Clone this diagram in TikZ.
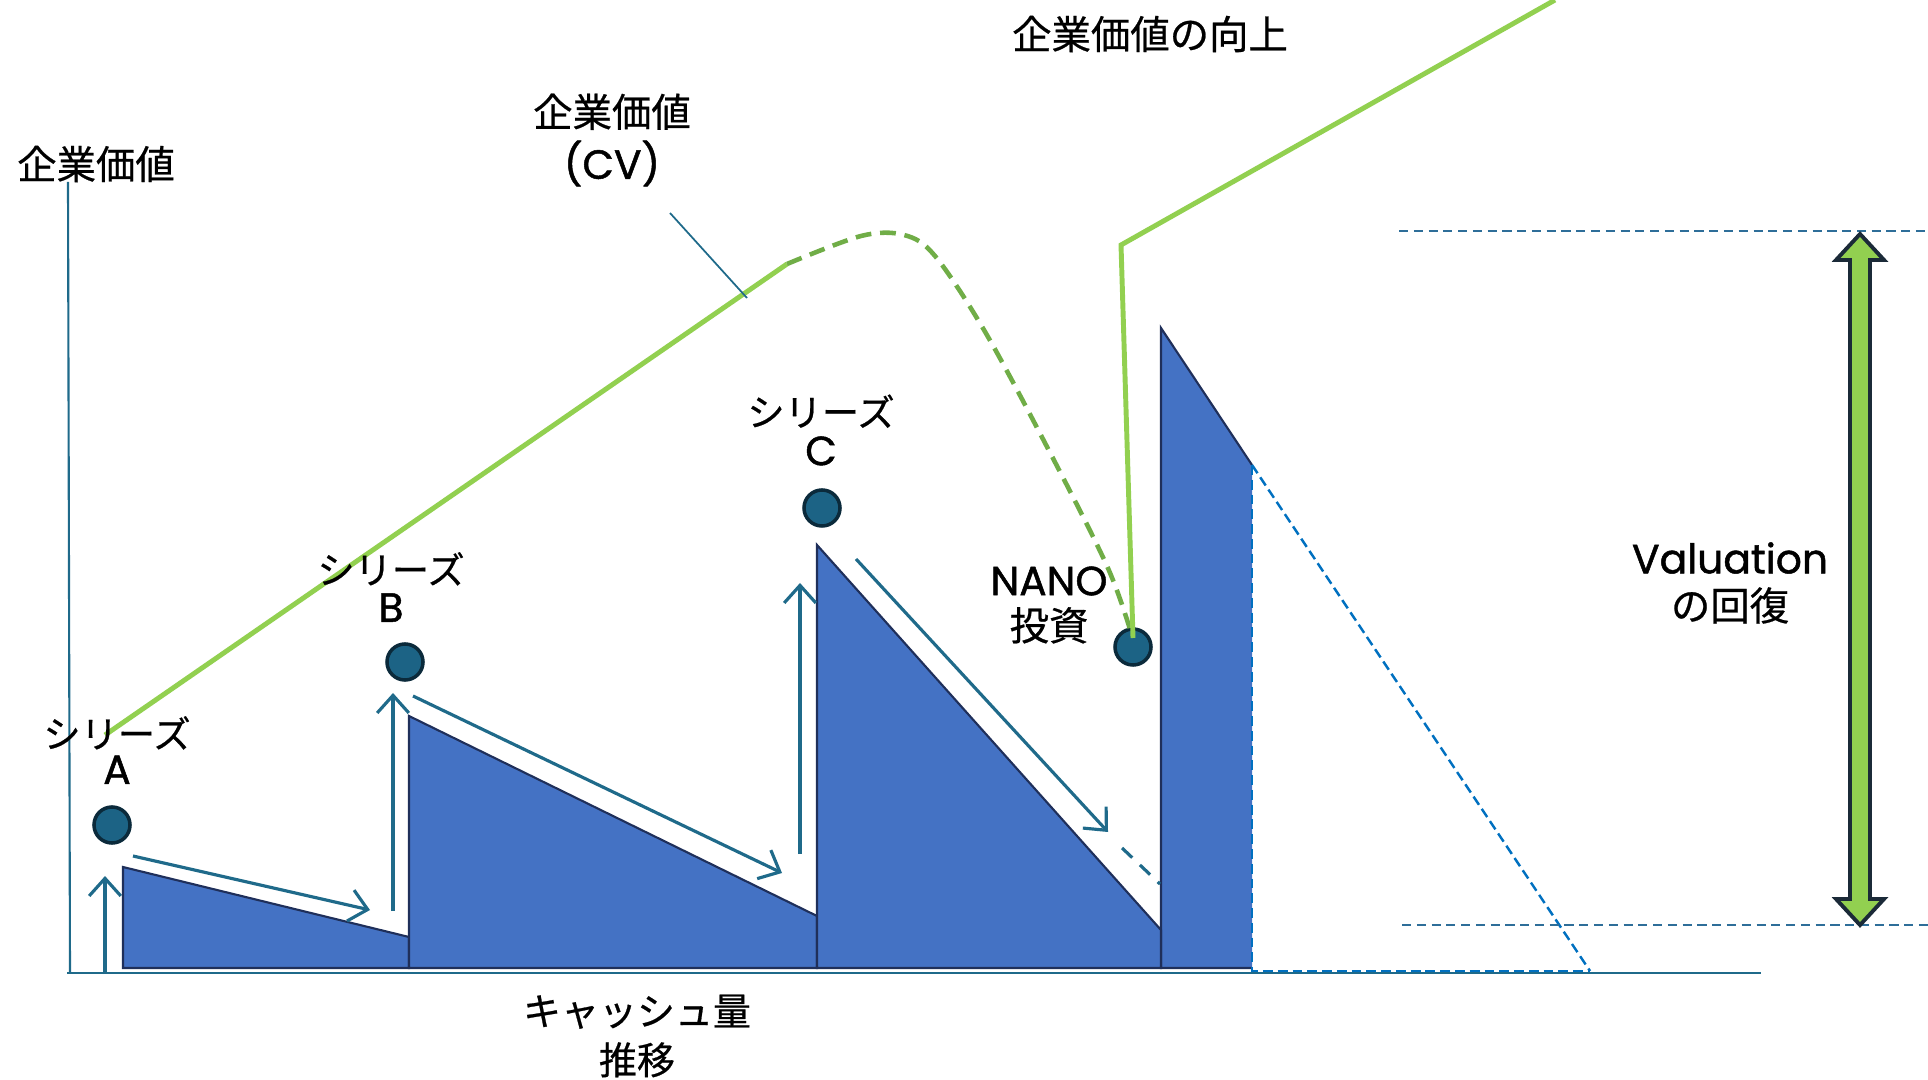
\documentclass[tikz,border=0pt]{standalone}
\usepackage{fontspec}
\setmainfont{Noto Sans CJK JP}[FakeBold=0.6]
\newfontfamily\latinfont{Poppins}[FakeBold=1.2]
\usetikzlibrary{arrows.meta}
\definecolor{polyfill}{HTML}{4472C4}
\definecolor{polyedge}{HTML}{1F2F5A}
\definecolor{flowteal}{HTML}{1F6A8A}
\definecolor{dotfill}{HTML}{1C6385}
\definecolor{dotedge}{HTML}{0B2A3B}
\definecolor{lgreen}{HTML}{92D050}
\definecolor{dgreen}{HTML}{70AD47}
\definecolor{dashblue}{HTML}{0070C0}
\definecolor{dashteal}{HTML}{2E6E99}
\definecolor{arrowedge}{HTML}{1B2A38}
\newcommand{\lt}[1]{{\latinfont\fontsize{11.6}{12}\selectfont #1}}
\begin{document}
\begin{tikzpicture}[x=0.01cm,y=-0.01cm,
 lbl/.style={font=\fontsize{11.2}{13}\selectfont, align=center, inner sep=0pt},
 dot/.style={circle, fill=dotfill, draw=dotedge, line width=1pt, minimum size=0.36cm, inner sep=0pt},
 cash/.style={fill=polyfill, draw=polyedge, line width=0.6pt, line join=miter},
 flow/.style={draw=flowteal, line width=0.9pt, -{Straight Barb[length=5pt,width=9pt]}},
 cv/.style={draw=lgreen, line width=1.4pt},
 axisline/.style={draw=flowteal, line width=0.6pt},
 refdash/.style={draw=dashteal, line width=0.4pt, dash pattern=on 2.6pt off 1.6pt},
 projdash/.style={draw=dashblue, line width=0.7pt, dash pattern=on 2.8pt off 1.4pt},
]
\useasboundingbox (0,0) rectangle (1928,1080);

% axes
\coordinate (yt) at (68,182);
\coordinate (yb) at (70,973);
\coordinate (xl) at (67,973);
\coordinate (xr) at (1761,973);
\draw[axisline] (yt) -- (yb);
\draw[axisline] (xl) -- (xr);

% cash polygons
\fill[polyfill] (1161,328) -- (1252,465) -- (1252,968) -- (1161,968) -- cycle;
\draw[polyedge, line width=0.6pt] (1252,465) -- (1161,328) -- (1161,968) -- (1252,968);
\draw[cash] (123,867) -- (409,937) -- (409,968) -- (123,968) -- cycle;
\draw[cash] (409,716) -- (817,916) -- (817,968) -- (409,968) -- cycle;
\draw[cash] (817,545) -- (1161,930) -- (1161,968) -- (817,968) -- cycle;

% projection dashed lines
\coordinate (pTop) at (1252,465);
\coordinate (pBot) at (1252,971);
\coordinate (pEnd) at (1590,971);
\draw[projdash] (pTop) -- (pBot) -- (pEnd);
\draw[projdash] (pTop) -- (pEnd);

% reference dashed lines
\coordinate (rt1) at (1399,231);
\coordinate (rt2) at (1928,231);
\coordinate (rb1) at (1402,925);
\coordinate (rb2) at (1928,925);
\draw[refdash] (rt1) -- (rt2);
\draw[refdash] (rb1) -- (rb2);

% dots
\node[dot] (dA) at (112,825) {};
\node[dot] (dB) at (405,662) {};
\node[dot] (dC) at (822,508) {};
\node[dot] (dN) at (1133,647) {};

% flow arrows
\coordinate (uA1) at (105,974); \coordinate (uA2) at (105,876);
\coordinate (fA1) at (133,856); \coordinate (fA2) at (370,910);
\coordinate (uB1) at (393,911); \coordinate (uB2) at (393,693);
\coordinate (fB1) at (413,696); \coordinate (fB2) at (782,873);
\coordinate (uC1) at (800,854); \coordinate (uC2) at (800,583);
\coordinate (fC1) at (856,559); \coordinate (fC2) at (1108,832);
\coordinate (fN1) at (1122,848); \coordinate (fN2) at (1160,884);
\draw[flow] (uA1) -- (uA2);
\draw[flow] (fA1) -- (fA2);
\draw[flow] (uB1) -- (uB2);
\draw[flow] (fB1) -- (fB2);
\draw[flow] (uC1) -- (uC2);
\draw[flow] (fC1) -- (fC2);
\draw[draw=flowteal, line width=0.9pt, dash pattern=on 4pt off 3pt] (fN1) -- (fN2);

% enterprise value line
\coordinate (gA) at (105,735);
\coordinate (gB) at (787,264);
\draw[cv] (gA) -- (gB);
\draw[draw=dgreen, line width=1.3pt, dash pattern=on 4.5pt off 2.5pt]
  plot[smooth, tension=0.55] coordinates {(787,264) (861,236) (904,235) (935,256) (984,330) (1045,443) (1107,566) (1132,636)};
\coordinate (gN) at (1133,638);
\coordinate (gK) at (1121,245);
\coordinate (gT) at (1555,0);
\draw[cv, line join=miter] (gN) -- (gK) -- (gT);

% callout
\coordinate (co1) at (670,213);
\coordinate (co2) at (747,298);
\draw[flowteal, line width=0.5pt] (co1) -- (co2);

% double arrow
\draw[fill=lgreen, draw=arrowedge, line width=1.1pt, line join=miter]
 (1860,234) -- (1884,260) -- (1870,260) -- (1870,899) -- (1884,899) -- (1860,925)
 -- (1836,899) -- (1850,899) -- (1850,260) -- (1836,260) -- cycle;

% labels
\node[lbl] (tY) at (96,164) {企業価値};
\node[lbl, font=\fontsize{11.2}{14.8}\selectfont] (tCV) at (612,140) {企業価値\\\lt{(CV)}};
\node[lbl] (tUp) at (1150,34) {企業価値の向上};
\node[lbl, font=\fontsize{10.6}{10.2}\selectfont] (tA) at (117,750) {シリーズ\\\lt{A}};
\node[lbl, font=\fontsize{10.6}{10.8}\selectfont] (tB) at (391,587) {シリーズ\\\lt{B}};
\node[lbl, font=\fontsize{10.6}{11.1}\selectfont] (tC) at (821,430) {シリーズ\\\lt{C}};
\node[lbl, font=\fontsize{11.2}{12.8}\selectfont] (tN) at (1049,605) {\lt{NANO}\\投資};
\node[lbl, font=\fontsize{11.2}{13.4}\selectfont] (tV) at (1730,583) {\lt{Valuation}\\の回復};
\node[lbl, font=\fontsize{10.8}{13.9}\selectfont] (tX) at (637,1036) {キャッシュ量\\推移};
\end{tikzpicture}
\end{document}
